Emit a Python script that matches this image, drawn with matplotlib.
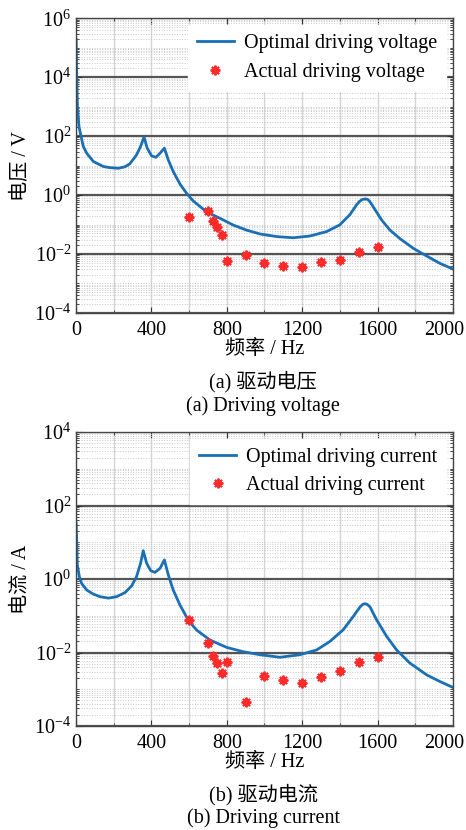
import numpy as np
import matplotlib
matplotlib.use("Agg")
import matplotlib.pyplot as plt
from matplotlib.ticker import LogLocator, NullFormatter
from matplotlib.transforms import ScaledTranslation

plt.rcParams['font.family'] = ['Liberation Serif', 'Noto Sans CJK SC']
plt.rcParams['mathtext.fontset'] = 'custom'
plt.rcParams['mathtext.rm'] = 'Liberation Serif'
plt.rcParams['mathtext.it'] = 'Liberation Serif:italic'
plt.rcParams['font.size'] = 14.5

# optimal curves (frequency in Hz, log10 of value)
opt_v_freq = [1, 4, 8, 16, 27, 39, 57, 92, 145, 180, 225, 260, 286, 321, 343, 361,
              378, 401, 424, 446, 469, 490, 516, 552, 587, 622, 693, 764, 835, 905,
              976, 1065, 1153, 1241, 1330, 1400, 1454, 1489, 1505, 1520, 1538, 1550,
              1560, 1586, 1622, 1666, 1719, 1790, 1861, 1931, 2000]
opt_v_log = [5.28, 4.0, 3.0, 2.33, 1.99, 1.65, 1.42, 1.14, 0.97, 0.93, 0.91, 0.96, 1.06,
             1.36, 1.65, 1.97, 1.59, 1.33, 1.28, 1.42, 1.59, 1.19, 0.80, 0.37, 0.06,
             -0.20, -0.57, -0.79, -1.02, -1.19, -1.32, -1.41, -1.45, -1.39, -1.24,
             -1.01, -0.66, -0.33, -0.21, -0.15, -0.13, -0.16, -0.23, -0.49, -0.85,
             -1.19, -1.48, -1.81, -2.07, -2.32, -2.51]

opt_i_freq = [1, 4, 7, 18, 30, 57, 92, 127, 172, 216, 260, 295, 321, 343, 357, 375,
              396, 419, 446, 469, 490, 516, 552, 596, 640, 711, 799, 888, 976, 1082,
              1188, 1277, 1347, 1418, 1471, 1507, 1522, 1533, 1545, 1560, 1595, 1648,
              1701, 1772, 1861, 1931, 2000]
opt_i_log = [1.52, 1.0, 0.40, 0.06, -0.12, -0.30, -0.41, -0.48, -0.52, -0.48, -0.37,
             -0.19, 0.06, 0.43, 0.77, 0.43, 0.23, 0.18, 0.29, 0.52, 0.11, -0.30, -0.71,
             -1.12, -1.39, -1.66, -1.86, -1.98, -2.06, -2.13, -2.06, -1.93, -1.70,
             -1.38, -1.02, -0.76, -0.69, -0.67, -0.69, -0.76, -1.11, -1.56, -1.93,
             -2.29, -2.61, -2.79, -2.95]

# measured points
act_freq = [600, 700, 725, 750, 775, 800, 900, 1000, 1100, 1200, 1300, 1400, 1500, 1600]
act_v = [0.174, 0.28, 0.13, 0.082, 0.043, 0.006, 0.0096, 0.0048, 0.0039, 0.0037,
         0.0053, 0.0063, 0.0117, 0.0178]
act_i = [0.079, 0.0178, 0.0082, 0.0053, 0.0027, 0.0054, 0.00046, 0.0023, 0.0018,
         0.0015, 0.0022, 0.0032, 0.0055, 0.0075]

xticks = [0, 400, 800, 1200, 1600, 2000]

blue = '#1a6fb5'
red = '#ff2a2a'

fig = plt.figure(figsize=(4.66, 8.30), dpi=100)
ax1 = fig.add_axes([0.163, 0.623, 0.809, 0.355])
ax2 = fig.add_axes([0.163, 0.1253, 0.809, 0.3542])


def style_axis(ax, ylim):
    ax.set_yscale('log')
    ax.set_xlim(0, 2000)
    ax.set_ylim(*ylim)
    ax.yaxis.set_major_locator(LogLocator(base=100, numticks=20))
    ax.yaxis.set_minor_locator(LogLocator(base=10, subs=np.arange(1, 10), numticks=40))
    ax.yaxis.set_minor_formatter(NullFormatter())
    ax.set_xticks(xticks)
    ax.set_xticks(np.arange(200, 2000, 400), minor=True)
    ax.grid(True, which='major', axis='y', color='#555555', lw=1.6, zorder=0)
    ax.grid(True, which='minor', axis='y', color='#c8c8c8', lw=0.7, ls=':', zorder=0)
    ax.grid(True, which='both', axis='x', color='#d4d4d4', lw=1.0, zorder=0)
    ax.tick_params(which='both', direction='in', top=True, right=True, colors='#333333',
                   labelcolor='black')
    ax.tick_params(which='major', length=4)
    ax.tick_params(which='minor', length=2.5)
    ax.tick_params(axis='x', pad=6)
    for s in ax.spines.values():
        s.set_color('#444444')
        s.set_linewidth(1.0)
    ax.set_axisbelow(True)
    # keep the last x label inside the figure
    last = ax.get_xticklabels()[-1]
    last.set_transform(last.get_transform() + ScaledTranslation(-0.09, 0, fig.dpi_scale_trans))


def add_legend(ax):
    leg = ax.legend(loc='upper right', frameon=True, fancybox=False, borderaxespad=0.35,
                    handlelength=1.8, handletextpad=0.5, labelspacing=0.45,
                    borderpad=0.45, fontsize=14.5)
    leg.get_frame().set_edgecolor('white')
    leg.get_frame().set_alpha(1)


ax1.plot(opt_v_freq, 10 ** np.array(opt_v_log), color=blue, lw=2.0,
         label='Optimal driving voltage')
ax1.plot(act_freq, act_v, ls='none', marker=(8, 2, 0), ms=7, mew=1.4, color=red,
         label='Actual driving voltage')
style_axis(ax1, (1e-4, 1e6))
ax1.set_xlabel('频率 / Hz', labelpad=0)
ax1.set_ylabel('电压 / V', labelpad=2)
add_legend(ax1)

ax2.plot(opt_i_freq, 10 ** np.array(opt_i_log), color=blue, lw=2.0,
         label='Optimal driving current')
ax2.plot(act_freq, act_i, ls='none', marker=(8, 2, 0), ms=7, mew=1.4, color=red,
         label='Actual driving current')
style_axis(ax2, (1e-4, 1e4))
ax2.set_xlabel('频率 / Hz', labelpad=0)
ax2.set_ylabel('电流 / A', labelpad=2)
add_legend(ax2)

fig.text(0.565, 1 - 382 / 830, '(a) 驱动电压', ha='center', va='center')
fig.text(0.565, 1 - 406 / 830, '(a) Driving voltage', ha='center', va='center')
fig.text(0.565, 1 - 795 / 830, '(b) 驱动电流', ha='center', va='center')
fig.text(0.565, 1 - 818 / 830, '(b) Driving current', ha='center', va='center')

fig.savefig('out.png', dpi=100)
